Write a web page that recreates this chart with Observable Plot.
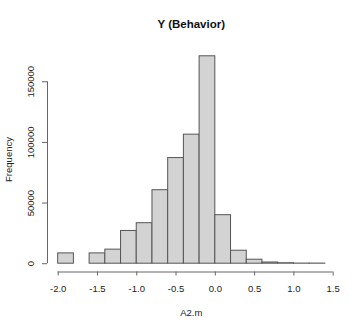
<!DOCTYPE html>
<html>
<head>
<meta charset="utf-8">
<script src="https://cdn.jsdelivr.net/npm/d3@7"></script>
<script src="https://cdn.jsdelivr.net/npm/@observablehq/plot@0.6"></script>
<style>
  html, body { margin: 0; padding: 0; background: #fff; }
  #chart svg { display: block; font-family: "Liberation Sans", Arial, sans-serif; }
</style>
</head>
<body>
<div id="chart"></div>
<script>
// Histogram bins (width 0.2) from -2.0 to 1.4
const binStarts = [-2.0, -1.8, -1.6, -1.4, -1.2, -1.0, -0.8, -0.6, -0.4, -0.2, 0.0, 0.2, 0.4, 0.6, 0.8, 1.0, 1.2];
const counts    = [8500, 0, 8500, 11600, 27000, 33400, 60600, 87100, 106400, 171000, 40000, 10700, 3300, 1000, 400, 100, 100];
const binWidth = 0.2;
const xTicks = [-2.0, -1.5, -1.0, -0.5, 0.0, 0.5, 1.0, 1.5];
const yTicks = [0, 50000, 100000, 150000];
const title = "Y (Behavior)";
const xLabel = "A2.m";
const yLabel = "Frequency";

const bins = binStarts.map((s, i) => ({x1: s, x2: +(s + binWidth).toFixed(1), count: counts[i]}));

// R-style 4% axis extension
const xMin = binStarts[0], xMax = bins[bins.length - 1].x2;
const xPad = (xMax - xMin) * 0.04;
const yMax = d3.max(counts);
const yPad = yMax * 0.04;

const W = 360, H = 330;
const mL = 47, mR = 24.5, mT = 47.5, mB = 58.5;

const chart = Plot.plot({
  width: W,
  height: H,
  marginLeft: mL,
  marginRight: mR,
  marginTop: mT,
  marginBottom: mB,
  style: {fontFamily: "Liberation Sans, Arial, sans-serif", fontSize: "9.5px", color: "#222", background: "#fff"},
  x: {domain: [xMin - xPad, xMax + xPad], label: null},
  y: {domain: [-yPad, yMax + yPad], label: null},
  marks: [
    Plot.rectY(bins, {x1: "x1", x2: "x2", y1: 0, y2: "count", fill: "#d3d3d3", stroke: "#555", strokeWidth: 1}),
    // x axis line spanning first to last tick
    Plot.ruleY([-yPad], {x1: xTicks[0], x2: xTicks[xTicks.length - 1], stroke: "#666"}),
    // y axis line spanning first to last tick
    Plot.ruleX([xMin - xPad], {y1: yTicks[0], y2: yTicks[yTicks.length - 1], stroke: "#666"}),
    Plot.axisX({ticks: xTicks, tickFormat: d => d.toFixed(1), tickSize: 4, tickPadding: 9, stroke: "#666", fill: "#222"}),
    Plot.axisY({ticks: yTicks, tickFormat: d => String(d), tickSize: 5, tickPadding: 9, tickRotate: -90, stroke: "#666", fill: "#222"})
  ]
});

document.getElementById("chart").appendChild(chart);

const svg = d3.select(chart);
const cx = mL + (W - mL - mR) / 2;
const cy = mT + (H - mT - mB) / 2;
svg.append("text")
  .attr("x", cx).attr("y", 28)
  .attr("text-anchor", "middle")
  .attr("font-weight", "bold")
  .attr("font-size", "11.5px")
  .attr("fill", "#111")
  .text(title);
svg.append("text")
  .attr("x", cx).attr("y", 316)
  .attr("text-anchor", "middle")
  .attr("font-size", "9.5px")
  .attr("fill", "#222")
  .text(xLabel);
svg.append("text")
  .attr("transform", `translate(11.5,${cy}) rotate(-90)`)
  .attr("text-anchor", "middle")
  .attr("font-size", "9.5px")
  .attr("fill", "#222")
  .text(yLabel);
</script>
</body>
</html>
